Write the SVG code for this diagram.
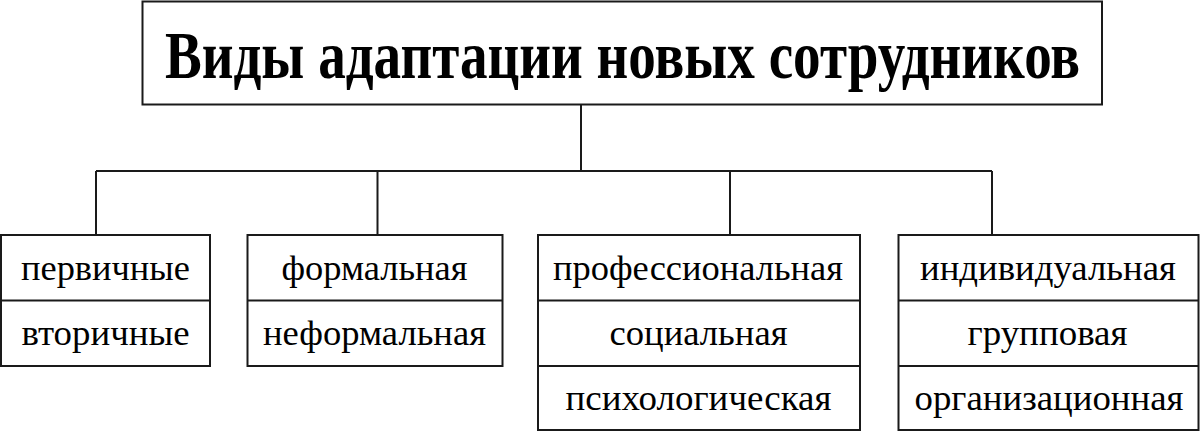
<svg xmlns="http://www.w3.org/2000/svg" width="1200" height="432" viewBox="0 0 1200 432">
<style>
.box{fill:#fff;stroke:#1a1a1a;stroke-width:2}
.div{stroke:#1a1a1a;stroke-width:2}
.con{stroke:#1a1a1a;stroke-width:2;fill:none}
.t{font-family:"Liberation Serif","Tinos","Times New Roman","DejaVu Serif",serif;font-size:36px;fill:#000;text-anchor:middle}
.title{font-family:"Liberation Serif","Tinos","Times New Roman","DejaVu Serif",serif;font-size:68px;font-weight:bold;fill:#000;text-anchor:middle}
</style>
<rect width="1200" height="432" fill="#fff"/>
<g id="connectors">
<path class="con" d="M581 104.5V171M96 171H992M96 171V235M377.5 171V235M730 171V235M992 171V235"/>
</g>
<g id="title">
<rect class="box" x="142.5" y="1.5" width="959.5" height="103"/>
<text class="title" transform="translate(622.5 78) scale(0.8 1)" x="0" y="0" textLength="1144" lengthAdjust="spacingAndGlyphs">Виды адаптации новых сотрудников</text>
</g>
<g id="node1">
<rect class="box" x="1" y="235" width="209" height="131"/>
<line class="div" x1="1" y1="300.5" x2="210" y2="300.5"/>
<text class="t" x="105.5" y="280" textLength="169" lengthAdjust="spacingAndGlyphs">первичные</text>
<text class="t" x="105.5" y="345" textLength="168" lengthAdjust="spacingAndGlyphs">вторичные</text>
</g>
<g id="node2">
<rect class="box" x="247.5" y="235" width="255" height="131"/>
<line class="div" x1="247.5" y1="300.5" x2="502.5" y2="300.5"/>
<text class="t" x="374.5" y="280" textLength="186" lengthAdjust="spacingAndGlyphs">формальная</text>
<text class="t" x="374.5" y="345" textLength="223" lengthAdjust="spacingAndGlyphs">неформальная</text>
</g>
<g id="node3">
<rect class="box" x="538" y="235" width="322" height="195"/>
<line class="div" x1="538" y1="300.5" x2="860" y2="300.5"/>
<line class="div" x1="538" y1="366" x2="860" y2="366"/>
<text class="t" x="698" y="280" textLength="290" lengthAdjust="spacingAndGlyphs">профессиональная</text>
<text class="t" x="698.5" y="345" textLength="178" lengthAdjust="spacingAndGlyphs">социальная</text>
<text class="t" x="698.5" y="410" textLength="266" lengthAdjust="spacingAndGlyphs">психологическая</text>
</g>
<g id="node4">
<rect class="box" x="898.5" y="235" width="300" height="195"/>
<line class="div" x1="898.5" y1="300.5" x2="1198.5" y2="300.5"/>
<line class="div" x1="898.5" y1="366" x2="1198.5" y2="366"/>
<text class="t" x="1048" y="280" textLength="256" lengthAdjust="spacingAndGlyphs">индивидуальная</text>
<text class="t" x="1047.5" y="345" textLength="160" lengthAdjust="spacingAndGlyphs">групповая</text>
<text class="t" x="1049" y="410" textLength="269" lengthAdjust="spacingAndGlyphs">организационная</text>
</g>
</svg>
